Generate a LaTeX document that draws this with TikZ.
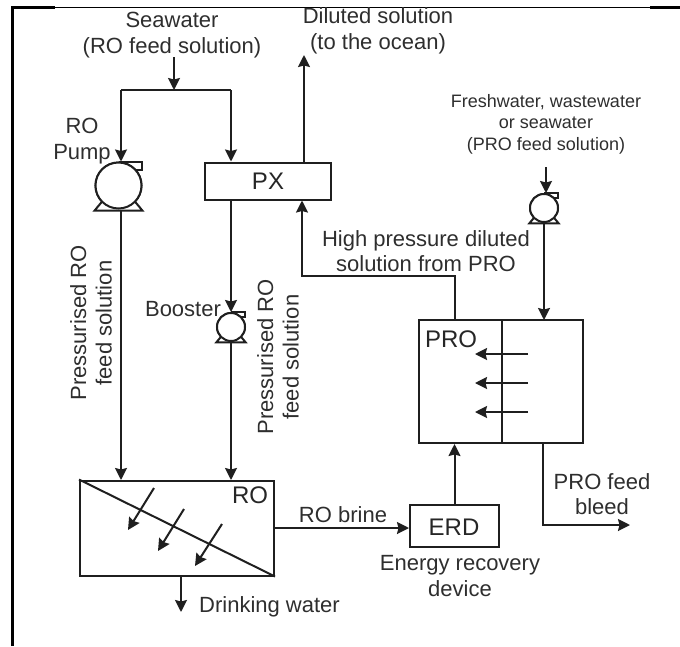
\documentclass[tikz,border=0pt]{standalone}
\usepackage{fontspec}
\setmainfont{Liberation Sans}
\usetikzlibrary{arrows.meta,calc}
\tikzset{
  ln/.style={line width=2pt,draw=black!88},
  flow/.style={ln,-{Stealth[length=12pt,width=12pt,inset=1.5pt]}},
  unit/.style={ln,rectangle,inner sep=0pt,fill=white},
  pumpbody/.style={ln,circle,inner sep=0pt,fill=white},
  lab/.style={text=black!82,inner sep=0pt,align=center,font=\fontsize{22}{25.5}\selectfont},
  labs/.style={lab,font=\fontsize{18}{21.5}\selectfont},
  big/.style={font=\fontsize{24}{24}\selectfont,text=black!85,inner sep=0pt},
}
\newcommand{\pumpdraw}[2]{%
  \draw[ln,fill=white] ($(#1.center)+(-#2*1.04,#2*1.09)$) -- ($(#1.center)+(#2*1.04,#2*1.09)$)
    -- ($(#1.center)+(#2*0.6,#2*0.56)$) -- ($(#1.center)+(-#2*0.6,#2*0.56)$) -- cycle;
  \draw[ln,fill=white] (#1.center) circle[radius=#2];
  \draw[ln] (#1.north) -- ++(#2,0) -- ++(0,#2*0.36) -- ++(-#2*0.28,0);
}
\begin{document}
\begin{tikzpicture}[x=1pt,y=-1pt]
\useasboundingbox (0,0) rectangle (680,646);
% frame
\draw[line width=3pt,black] (12.5,646) -- (12.5,7.5) -- (55,7.5);
\draw[line width=1pt,black] (55,7.5) -- (650,7.5);
\draw[line width=2.4pt,black] (650,7.5) -- (680,7.5);

% units
\node[unit,minimum width=126pt,minimum height=37pt] (px) at (268,181) {};
\node[unit,minimum width=194pt,minimum height=95pt] (ro) at (177,528) {};
\node[unit,minimum width=89pt,minimum height=42pt] (erd) at (454.5,526) {};
\node[unit,minimum width=164pt,minimum height=123pt] (pro) at (501,381.5) {};
\node[big] (pxl) at (268,181) {PX};
\node[big] (rol) at (250,495.5) {RO};
\node[big] (erdl) at (454,527) {ERD};
\node[big] (prol) at (451,339) {PRO};

% pumps
\node[pumpbody,minimum size=46pt] (p1) at (118.5,185.5) {};
\node[pumpbody,minimum size=28pt] (p2) at (231,327) {};
\node[pumpbody,minimum size=28pt] (p3) at (544,208) {};
\pumpdraw{p1}{23}
\pumpdraw{p2}{14}
\pumpdraw{p3}{14}

% helper coordinates
\coordinate (seaS) at (174,57);
\coordinate (seaJ) at (174,90);
\coordinate (jL) at (121,90);
\coordinate (jR) at (231,90);
\coordinate (dil) at (304,55);
\coordinate (hpT) at (302,276);
\coordinate (hpR) at (455,276);
\coordinate (feedS) at (546,167);
\coordinate (bleedC) at (543,525);
\coordinate (bleedE) at (630,525);
\coordinate (drink) at (181,612);

% connectors
\draw[flow] (seaS) -- (seaJ);
\draw[ln] (jL) -- (jR);
\draw[flow] (jL) -- (jL |- p1.north);
\draw[flow] (jR) -- (jR |- px.north);
\draw[flow] (dil |- px.north) -- (dil);
\draw[flow] (hpR |- pro.north) -- (hpR) -- (hpT) -- (hpT |- px.south);
\draw[flow] (p2.north |- px.south) -- (p2.north);
\draw[flow] (121,211) -- (121,480);
\draw[flow] (231,341) -- (231,480);
\draw[flow] (feedS) -- (546,193);
\draw[flow] (544,223) -- (544,320);
\draw[flow] (ro.east |- 0,528) -- (erd.west |- 0,528);
\draw[flow] (erd.north) -- (erd.north |- pro.south);
\draw[flow] (bleedC |- pro.south) -- (bleedC) -- (bleedE);
\draw[flow] (drink |- ro.south) -- (drink);

% membranes
\draw[ln] (ro.north west) -- (ro.south east);
\draw[ln] (501.5,320) -- (501.5,443);
\draw[flow] (154,488) -- (128,530);
\draw[flow] (184,509) -- (158,551);
\draw[flow] (222,524) -- (195,566);
\draw[flow] (528,354) -- (475,354);
\draw[flow] (528,383) -- (475,383);
\draw[flow] (528,412) -- (475,412);

% labels
\node[lab] (t1) at (172,35) {Seawater\\(RO feed solution)};
\node[lab] (t2) at (378,31) {Diluted solution\\(to the ocean)};
\node[lab] (t3) at (82,141) {RO\\Pump};
\node[labs] (t4) at (546,124) {Freshwater, wastewater\\or seawater\\(PRO feed solution)};
\node[lab] (t5) at (426,251) {High pressure diluted\\solution from PRO};
\node[lab] (t6) at (183,309) {Booster};
\node[lab,rotate=90] (t7) at (91,323) {Pressurised RO\\feed solution};
\node[lab,rotate=90] (t8) at (278,357) {Pressurised RO\\feed solution};
\node[lab,anchor=west] (t9) at (199,607) {Drinking water};
\node[lab] (t10) at (343,515) {RO brine};
\node[lab] (t11) at (460,576) {Energy recovery\\device};
\node[lab] (t12) at (602,494) {PRO feed\\bleed};
\end{tikzpicture}
\end{document}
